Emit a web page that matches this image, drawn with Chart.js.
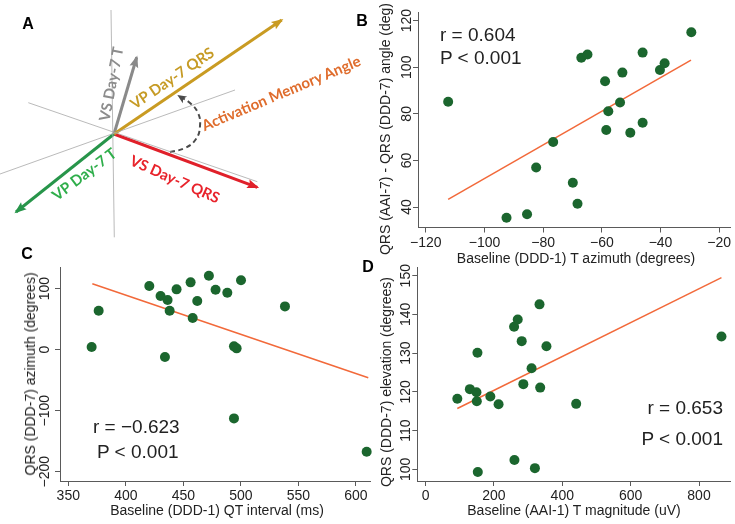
<!DOCTYPE html>
<html><head><meta charset="utf-8">
<script src="https://cdn.jsdelivr.net/npm/chart.js@4.4.1/dist/chart.umd.min.js"></script>
<style>
html,body{margin:0;padding:0;background:#fff;}
body{width:735px;height:524px;position:relative;overflow:hidden;font-family:"Liberation Sans",Arial,sans-serif;}
canvas{position:absolute;}
.t{position:absolute;white-space:nowrap;line-height:1;color:#222;}
.c{transform:translate(-50%,-50%);}
.yt{transform:translate(-50%,-50%) rotate(-90deg);}
.lab{font-weight:bold;font-size:16px;color:#000;}
.ax{font-size:14px;}
.st{font-size:19px;}
.va{font-family:Lato,"Open Sans",sans-serif;font-weight:bold;font-size:15px;}
</style></head><body>
<canvas id="cA" width="370" height="245" style="left:0;top:0"></canvas>
<canvas id="cB" width="375" height="255" style="left:360px;top:0"></canvas>
<canvas id="cC" width="376" height="279" style="left:0;top:245px"></canvas>
<canvas id="cD" width="375" height="269" style="left:360px;top:255px"></canvas>

<div class="t lab c" style="left:28px;top:24px">A</div>
<div class="t lab c" style="left:362px;top:21px">B</div>
<div class="t lab c" style="left:27px;top:254px">C</div>
<div class="t lab c" style="left:368px;top:267px">D</div>

<div class="t va" style="left:110.5px;top:84px;color:#8c8c8c;transform:translate(-50%,-50%) rotate(-79deg)">VS Day-7 T</div>
<div class="t va" style="left:172px;top:78px;color:#c69b25;transform:translate(-50%,-50%) rotate(-34deg)">VP Day-7 QRS</div>
<div class="t va" style="left:281px;top:93px;color:#df6c2c;transform:translate(-50%,-50%) rotate(-22.8deg)">Activation Memory Angle</div>
<div class="t va" style="left:84px;top:174px;color:#2fae4b;transform:translate(-50%,-50%) rotate(-37deg)">VP Day-7 T</div>
<div class="t va" style="left:175px;top:179px;color:#e8232b;transform:translate(-50%,-50%) rotate(24deg)">VS Day-7 QRS</div>

<div class="t ax yt" style="left:385px;top:129px">QRS (AAI-7) - QRS (DDD-7) angle (deg)</div>
<div class="t ax c" style="left:576px;top:258px">Baseline (DDD-1) T azimuth (degrees)</div>
<div class="t ax yt" style="left:30px;top:374px">QRS (DDD-7) azimuth (degrees)</div>
<div class="t ax c" style="left:217px;top:510px">Baseline (DDD-1) QT interval (ms)</div>
<div class="t ax yt" style="left:386px;top:382px">QRS (DDD-7) elevation (degrees)</div>
<div class="t ax c" style="left:574px;top:510px">Baseline (AAI-1) T magnitude (uV)</div>

<div class="t st" style="left:440px;top:24.5px">r = 0.604</div>
<div class="t st" style="left:440px;top:47.5px">P &lt; 0.001</div>
<div class="t st" style="left:93px;top:416.5px">r = −0.623</div>
<div class="t st" style="left:97px;top:441.5px">P &lt; 0.001</div>
<div class="t st" style="right:12px;top:397.5px">r = 0.653</div>
<div class="t st" style="right:12px;top:428.5px">P &lt; 0.001</div>

<script>
// ---------- Panel A: vector diagram (origin-relative units, y up) ----------
const vecX = [167.7, 22.7, -98, 143.3];     // VP QRS, VS T, VP T, VS QRS
const vecY = [114, 76.7, -78, -53.3];
const guideX1 = [-3, -85.7, -114];
const guideY1 = [124, 31.3, -40];
const guideX2 = [0.3, 143.3, 121];
const guideY2 = [-103.3, -47.7, 44];
const arcX = [56, 71, 82, 86, 84, 76, 65];
const arcY = [-18, -14, -5, 8, 21, 31, 38];

// ---------- Panel B ----------
const bX = [-112.4,-92.5,-85.5,-82.4,-76.6,-69.9,-68.3,-67.0,-64.9,-58.9,-58.5,-57.8,-53.0,-53.8,-50.3,-46.1,-46.1,-40.2,-38.6,-29.5];
const bY = [85.2,35.4,36.9,57.0,67.9,50.4,41.4,104.1,105.5,94.0,73.1,81.1,97.7,84.9,71.9,106.3,76.2,98.8,101.7,115.0];
const bFitX = [-112.4, -29.6];
const bFitY = [43.3, 103.1];
const bXTicks = [-120,-100,-80,-60,-40,-20];
const bYTicks = [40,60,80,100,120];

// ---------- Panel C ----------
const cX = [370.3,376.4,420.4,430.2,436.3,438.1,434.0,444.1,456.3,458.1,462.1,472.2,478.0,488.2,500.1,494.0,496.3,494.0,538.3,609.3];
const cY = [4.4,63.9,104.4,88.0,81.4,63.9,-12.0,98.9,110.4,51.9,79.8,121.3,98.4,93.4,113.7,5.5,2.2,-112.6,71.0,-167.2];
const cFitX = [370.9, 610.7];
const cFitY = [108.2, -45.9];
const cXTicks = [350,400,450,500,550,600];
const cYTicks = [-200,-100,0,100];

// ---------- Panel D ----------
const dX = [92.8,129.5,148.8,149.8,151.7,152.7,189.4,213.5,258.9,269.6,259.9,281.2,286.0,310.1,319.8,333.3,335.3,353.6,440.6,865.7];
const dY = [118.2,120.7,119.9,117.6,130.1,99.3,118.8,116.8,136.8,138.7,102.4,133.1,122.0,126.1,100.3,142.6,121.1,131.8,116.9,134.3];
const dFitX = [92.8, 865.7];
const dFitY = [115.7, 149.5];
const dXTicks = [0,200,400,600,800];
const dYTicks = [100,110,120,130,140,150];

Chart.defaults.font.family = '"Liberation Sans", Arial, sans-serif';
Chart.defaults.font.size = 14;
Chart.defaults.color = '#222';

const fmt = v => (v < 0 ? '\u2212' + Math.abs(v) : String(v));
const pts = (xs, ys) => xs.map((x, i) => ({x, y: ys[i]}));
const AXC = '#5a5a5a';

function scatterPanel(id, box, area, xr, yr, xs, ys, fx, fy, xt, yt, gap) {
  const yTickPlugin = {
    id: 'ylab',
    afterDraw(chart) {
      const s = chart.scales.y, ctx = chart.ctx;
      ctx.save();
      ctx.font = '14px "Liberation Sans", Arial, sans-serif';
      ctx.fillStyle = '#222';
      ctx.textAlign = 'center';
      ctx.textBaseline = 'middle';
      for (const t of s.ticks) {
        const py = s.getPixelForValue(t.value);
        ctx.save();
        ctx.translate(s.right - gap, py);
        ctx.rotate(-Math.PI / 2);
        ctx.fillText(fmt(t.value), 0, 0);
        ctx.restore();
      }
      ctx.restore();
    }
  };
  new Chart(document.getElementById(id), {
    type: 'scatter',
    data: { datasets: [
      { data: pts(xs, ys), pointRadius: 5, pointHoverRadius: 5, pointBackgroundColor: '#1b662e', pointBorderWidth: 0, clip: false, order: 0 },
      { data: pts(fx, fy), showLine: true, borderColor: '#f2693a', borderWidth: 1.5, pointRadius: 0, clip: false, order: 1 }
    ]},
    options: {
      responsive: false, animation: false, devicePixelRatio: 1, events: [],
      layout: { padding: { left: 0, top: area.t - box.y, right: box.x + box.w - area.r, bottom: 0 } },
      plugins: { legend: { display: false }, tooltip: { enabled: false } },
      scales: {
        x: {
          type: 'linear', min: xr[0], max: xr[1],
          afterBuildTicks: s => { s.ticks = xt.map(v => ({value: v})); },
          afterFit: s => { s.height = box.y + box.h - area.b; s.paddingLeft = 0; s.paddingRight = 0; },
          ticks: { callback: v => fmt(v), color: '#222', padding: 2, maxRotation: 0, minRotation: 0, autoSkip: false },
          grid: { display: true, drawOnChartArea: false, drawTicks: true, tickLength: 5, color: AXC },
          border: { display: true, color: AXC }
        },
        y: {
          type: 'linear', min: yr[0], max: yr[1],
          afterBuildTicks: s => { s.ticks = yt.map(v => ({value: v})); },
          afterFit: s => { s.width = area.l - box.x; s.paddingTop = 0; s.paddingBottom = 0; },
          ticks: { color: 'rgba(0,0,0,0)', autoSkip: false },
          grid: { display: true, drawOnChartArea: false, drawTicks: true, tickLength: 5, color: AXC },
          border: { display: true, color: AXC }
        }
      }
    },
    plugins: [yTickPlugin]
  });
}

scatterPanel('cB', {x:360,y:0,w:375,h:255}, {l:418,t:12.7,r:735,b:227.5},
  [-122.68,-16.31], [31.2,123.43], bX, bY, bFitX, bFitY, bXTicks, bYTicks, 11);
scatterPanel('cC', {x:0,y:245,w:376,h:279}, {l:60,t:267.7,r:370,b:481},
  [342.8,612.2], [-215.2,134.4], cX, cY, cFitX, cFitY, cXTicks, cYTicks, 15);
scatterPanel('cD', {x:360,y:255,w:375,h:269}, {l:417.3,t:267.7,r:733,b:481},
  [-24.3,890.7], [96.98,152.07], dX, dY, dFitX, dFitY, dXTicks, dYTicks, 11);

// ---------- Panel A chart ----------
const vecColors = ['#c99b22', '#8a8a8a', '#27954a', '#e0202a'];
const arrowPlugin = {
  id: 'arrows',
  afterDatasetsDraw(chart) {
    const ctx = chart.ctx;
    chart.data.datasets.forEach((ds, i) => {
      if (!ds.arrowHead) return;
      const m = chart.getDatasetMeta(i).data;
      const p1 = m[m.length - 2], p2 = m[m.length - 1];
      const a = Math.atan2(p2.y - p1.y, p2.x - p1.x);
      const L = ds.arrowHead[0], W = ds.arrowHead[1];
      ctx.save();
      ctx.translate(p2.x, p2.y);
      ctx.rotate(a);
      ctx.fillStyle = ds.borderColor;
      ctx.beginPath();
      ctx.moveTo(2, 0);
      ctx.lineTo(-L, W);
      ctx.lineTo(-L + 2, 0);
      ctx.lineTo(-L, -W);
      ctx.closePath();
      ctx.fill();
      ctx.restore();
    });
  }
};
const aSets = [];
guideX1.forEach((x, i) => aSets.push({
  data: [{x, y: guideY1[i]}, {x: guideX2[i], y: guideY2[i]}],
  showLine: true, borderColor: '#a8a8a8', borderWidth: 0.8, pointRadius: 0
}));
aSets.push({ data: pts(arcX, arcY), showLine: true, tension: 0.45, borderColor: '#4a4a4a',
  borderWidth: 2, borderDash: [5, 3.5], pointRadius: 0, arrowHead: [7, 4] });
vecX.forEach((x, i) => aSets.push({
  data: [{x: 0, y: 0}, {x, y: vecY[i]}], showLine: true, borderColor: vecColors[i],
  borderWidth: 3, pointRadius: 0, arrowHead: [10, 4.5]
}));
new Chart(document.getElementById('cA'), {
  type: 'scatter',
  data: { datasets: aSets },
  options: {
    responsive: false, animation: false, devicePixelRatio: 1, events: [],
    layout: { padding: 0 },
    plugins: { legend: { display: false }, tooltip: { enabled: false } },
    scales: { x: { display: false, min: -114, max: 256 }, y: { display: false, min: -111, max: 134 } }
  },
  plugins: [arrowPlugin]
});
</script>
</body></html>
